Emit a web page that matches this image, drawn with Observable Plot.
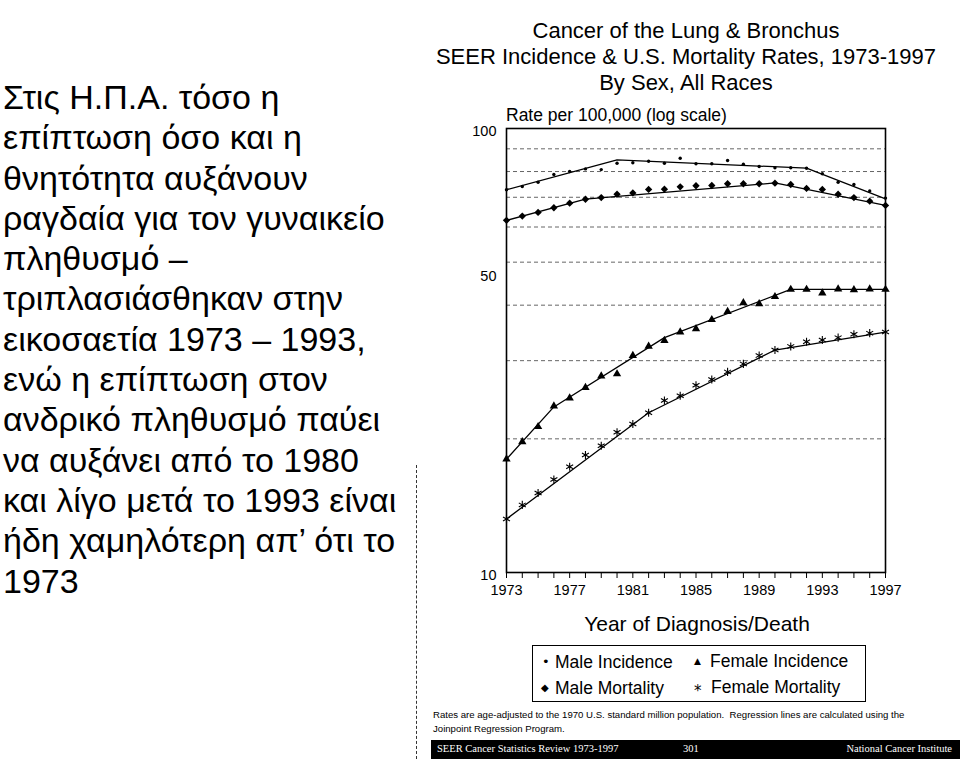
<!DOCTYPE html>
<html>
<head>
<meta charset="utf-8">
<script src="https://cdn.jsdelivr.net/npm/d3@7"></script>
<script src="https://cdn.jsdelivr.net/npm/@observablehq/plot@0.6"></script>
<style>
  html, body { margin:0; padding:0; background:#fff; }
  body { width:960px; height:759px; position:relative; overflow:hidden; font-family:"Liberation Sans", Arial, sans-serif; color:#000; }
  .abs { position:absolute; white-space:nowrap; }
  #greek { left:3px; top:77px; font-size:34px; line-height:40.3px; white-space:nowrap; }
  .title { left:430px; width:512px; text-align:center; font-size:22px; line-height:26px; }
  #legend { left:532px; top:645px; width:334px; height:57px; border:1.5px solid #000; box-sizing:border-box; font-size:17.5px; }
  #legend .it { position:absolute; white-space:nowrap; line-height:20px; }
  #legend .sym { position:absolute; font-family:"DejaVu Sans", sans-serif; line-height:20px; }
  .note { left:433px; font-size:9.6px; line-height:14px; }
  #bar { left:431px; top:740px; width:529px; height:19px; background:#000; color:#fff; font-family:"Liberation Serif", "DejaVu Serif", serif; font-size:10.5px; }
  #bar span { position:absolute; top:3px; white-space:nowrap; }
  #scan { left:416px; top:465px; width:0; height:294px; border-left:1.5px dashed #333; }
</style>
</head>
<body>
<div id="greek" class="abs">Στις Η.Π.Α. τόσο η<br>επίπτωση όσο και η<br>θνητότητα αυξάνουν<br>ραγδαία για τον γυναικείο<br>πληθυσμό –<br>τριπλασιάσθηκαν στην<br>εικοσαετία 1973 – 1993,<br>ενώ η επίπτωση στον<br>ανδρικό πληθυσμό παύει<br>να αυξάνει από το 1980<br>και λίγο μετά το 1993 είναι<br>ήδη χαμηλότερη απ’ ότι το<br>1973</div>

<div class="abs title" style="top:18px">Cancer of the Lung &amp; Bronchus</div>
<div class="abs title" style="top:44px">SEER Incidence &amp; U.S. Mortality Rates, 1973-1997</div>
<div class="abs title" style="top:70px">By Sex, All Races</div>
<div class="abs" style="left:506px; top:105px; font-size:17.5px;">Rate per 100,000 (log scale)</div>

<div id="chart" class="abs" style="left:440px; top:110px;"></div>

<div class="abs" style="left:440px; width:514px; text-align:center; top:612px; font-size:21px;">Year of Diagnosis/Death</div>

<div id="legend" class="abs">
  <span class="sym" style="left:9px; top:6px; font-size:13px;">•</span>
  <span class="it" style="left:22px; top:6px;">Male Incidence</span>
  <span class="sym" style="left:161px; top:5px; font-size:9px;">▲</span>
  <span class="it" style="left:177px; top:5px;">Female Incidence</span>
  <span class="sym" style="left:8px; top:32px; font-size:10px;">◆</span>
  <span class="it" style="left:22px; top:32px;">Male Mortality</span>
  <span class="sym" style="left:161px; top:35px; font-size:15px;">*</span>
  <span class="it" style="left:178px; top:31px;">Female Mortality</span>
</div>

<div class="abs note" style="top:708px">Rates are age-adjusted to the 1970 U.S. standard million population.&nbsp; Regression lines are calculated using the</div>
<div class="abs note" style="top:722px">Joinpoint Regression Program.</div>

<div id="bar" class="abs">
  <span style="left:6px">SEER Cancer Statistics Review 1973-1997</span>
  <span style="left:252px">301</span>
  <span style="right:8px">National Cancer Institute</span>
</div>
<div id="scan" class="abs"></div>

<script>
// ---- data (rate per 100,000, age-adjusted) ----
const years = [1973,1974,1975,1976,1977,1978,1979,1980,1981,1982,1983,1984,1985,1986,1987,1988,1989,1990,1991,1992,1993,1994,1995,1996,1997];
const labeledYears = [1973,1977,1981,1985,1989,1993,1997];

const maleIncidence  = [72.8,74.0,75.7,78.8,80.0,81.1,80.8,83.5,83.7,84.4,83.5,85.7,83.3,83.3,84.7,83.1,82.1,81.6,81.6,81.4,79.1,75.7,74.8,72.3,69.7];
const maleMortality  = [62.1,63.5,64.7,66.3,67.9,69.3,69.9,71.1,71.6,72.9,73.0,73.9,74.3,74.4,75.1,75.1,75.1,75.3,74.8,73.3,72.9,71.1,69.9,68.6,67.1];
const femaleIncidence= [18.0,19.7,21.3,23.7,24.7,26.1,27.7,28.0,30.8,32.3,33.3,34.8,35.4,37.1,38.7,40.5,40.3,41.8,43.4,43.4,42.6,43.5,43.3,43.5,43.4];
const femaleMortality= [13.2,14.2,15.1,16.2,17.3,18.4,19.3,20.7,21.6,22.9,24.4,25.0,26.4,27.2,28.3,29.5,30.8,31.7,32.3,33.1,33.4,33.8,34.4,34.6,34.8];

// Joinpoint regression lines (joinpoint years and fitted rates)
const maleIncidenceFitYears   = [1973,1980,1992,1997];
const maleIncidenceFit        = [72.8,85.0,81.4,69.4];
const maleMortalityFitYears   = [1973,1978,1990,1997];
const maleMortalityFit        = [62.1,69.3,75.4,67.1];
const femaleIncidenceFitYears = [1973,1976,1983,1991,1997];
const femaleIncidenceFit      = [18.0,23.6,33.8,43.4,43.4];
const femaleMortalityFitYears = [1973,1982,1990,1997];
const femaleMortalityFit      = [13.2,22.9,31.7,34.8];

const gridValues = [20,30,40,50,60,70,80,90];

const pts = (vals) => years.map((yr,i) => ({year: yr, rate: vals[i]}));
const fit = (ys, vals) => ys.map((yr,i) => ({year: yr, rate: vals[i]}));

const lineStyle = {x:"year", y:"rate", stroke:"black", strokeWidth:1.3};

const chart = Plot.plot({
  width: 470,
  height: 500,
  marginLeft: 66,
  marginRight: 25,
  marginTop: 18,
  marginBottom: 38,
  style: {fontFamily: "'Liberation Sans', Arial, sans-serif", fontSize: "14.5px", background: "transparent", color: "black", overflow: "visible"},
  x: {domain: [1973, 1997]},
  y: {type: "log", domain: [10, 100]},
  marks: [
    Plot.ruleY(gridValues, {stroke: "#555", strokeDasharray: "4,3", strokeWidth: 0.9}),
    Plot.frame({stroke: "black", strokeWidth: 1.6}),
    Plot.axisX({ticks: years, tickSize: 6, tickPadding: 6, label: null, stroke: "black",
      tickFormat: d => labeledYears.includes(d) ? String(d) : ""}),
    Plot.axisY({ticks: [10, 100], tickSize: 0, tickPadding: 10, label: null, dy: 3, tickFormat: d => String(d)}),
    Plot.axisY({ticks: [50], tickSize: 0, tickPadding: 10, label: null, dy: 14, tickFormat: d => String(d)}),

    Plot.line(fit(maleIncidenceFitYears, maleIncidenceFit), lineStyle),
    Plot.line(fit(maleMortalityFitYears, maleMortalityFit), lineStyle),
    Plot.line(fit(femaleIncidenceFitYears, femaleIncidenceFit), lineStyle),
    Plot.line(fit(femaleMortalityFitYears, femaleMortalityFit), lineStyle),

    Plot.dot(pts(maleIncidence), {x:"year", y:"rate", symbol:"circle", r:1.7, fill:"black", stroke:"none"}),
    Plot.dot(pts(maleMortality), {x:"year", y:"rate", symbol:"diamond2", r:3.3, fill:"black", stroke:"none"}),
    Plot.dot(pts(femaleIncidence), {x:"year", y:"rate", symbol:"triangle", r:3.1, fill:"black", stroke:"none"}),
    Plot.dot(pts(femaleMortality), {x:"year", y:"rate", symbol:"asterisk", r:3.8, fill:"none", stroke:"black", strokeWidth:1.1})
  ]
});
document.getElementById("chart").appendChild(chart);
</script>
</body>
</html>
